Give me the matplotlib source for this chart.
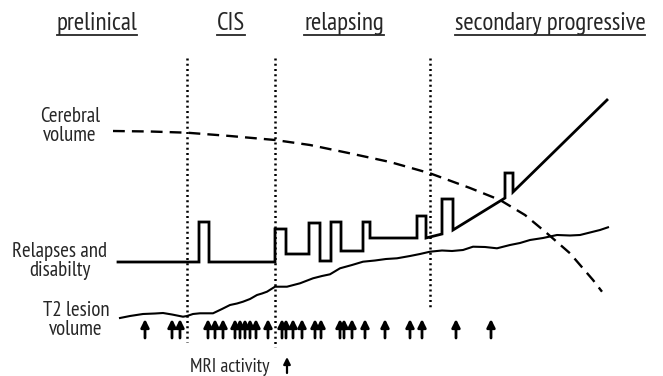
## MS disease course schematic

import numpy as np
import matplotlib.pyplot as plt

#Phase headers and their centre positions
phases = ['prelinical', 'CIS', 'relapsing', 'secondary progressive']
phase_x = [97, 231, 344, 550]

#Phase boundaries (dotted lines) and their lower ends
bound_x = [187, 275, 430]
bound_bottom = [342, 347, 307]

#Relapses and disability (step line)
relapse_x = [118, 199, 199, 209, 209, 275, 275, 286, 286, 309, 309, 320, 320, 331, 331, 341, 341, 363,
             363, 370, 370, 417, 417, 426, 426, 442, 442, 453, 453, 505, 505, 513, 513, 607]
relapse_y = [262, 262, 222, 222, 262, 262, 229, 229, 254, 254, 223, 223, 261, 261, 222, 222, 251, 251,
             222, 222, 238, 238, 216, 216, 238, 234, 199, 199, 230, 198, 173, 173, 192, 100]

#Cerebral volume (dashed)
cereb_x = [113, 150, 187, 230, 275, 310, 347, 390, 430, 470, 500, 525, 547, 570, 593, 602]
cereb_y = [131, 131.5, 132.7, 136, 140, 145, 152.7, 162, 173.3, 188, 200, 215, 233.3, 253.3, 280, 291.7]

#T2 lesion volume
t2_x = [120, 130, 143, 155, 163, 172, 183, 187, 193, 200, 213, 222, 230, 237, 243, 250, 257, 262, 267,
        275, 287, 300, 313, 322, 330, 340, 352, 363, 375, 386, 397, 410, 420, 430, 442, 452, 463, 473,
        485, 497, 510, 520, 530, 543, 557, 570, 580, 592, 600, 608]
t2_y = [318, 316, 314, 313.5, 313, 314.5, 316.7, 316, 314, 313.3, 313.3, 309, 305, 303.5, 301.7, 299,
        295, 293.5, 291.7, 286.7, 286.7, 283.3, 278.3, 276, 274.3, 268.3, 265, 261.7, 260.5, 259, 258.3,
        256, 254, 251.7, 250.5, 251, 250, 246.7, 247, 248.3, 245, 243, 240, 238, 235, 235.5, 235, 232,
        230, 227.3]

#MRI activity arrows
mri_x = [145, 172, 180, 208, 215, 223, 235, 240, 245, 250, 256, 268, 282, 286, 293, 302, 315, 321,
         340, 344, 352, 365, 385, 410, 422, 456, 491]

#Row labels: text, x centre, y centre
labels = ['Cerebral\nvolume', 'Relapses and\ndisabilty', 'T2 lesion\nvolume']
label_x = [70, 60, 76]
label_y = [126, 261, 320]

plt.rcParams['font.family'] = ['PT Sans Narrow', 'DejaVu Sans']
tc = '#262626'

fig = plt.figure(figsize=(6.63, 3.76), dpi=100)
ax = fig.add_axes([0, 0, 1, 1])
ax.set_xlim(0, 663)
ax.set_ylim(376, 0)
ax.axis('off')

#Phase boundaries
for x, yb in zip(bound_x, bound_bottom):
    ax.plot([x, x], [58, yb], color='k', lw=1.8, linestyle=(0, (0.8, 1.3)))

#Curves
ax.plot(cereb_x, cereb_y, color='k', lw=1.7, linestyle=(0, (5, 3)))
ax.plot(t2_x, t2_y, color='k', lw=1.5)
ax.plot(relapse_x, relapse_y, color='k', lw=2.0, solid_joinstyle='miter')

#Arrows
for x in mri_x:
    ax.annotate('', xy=(x, 319), xytext=(x, 338),
                arrowprops=dict(arrowstyle='-|>', lw=2.0, color='k', mutation_scale=12, shrinkA=0, shrinkB=0))

#Headers with underline
hdrs = []
for name, x in zip(phases, phase_x):
    hdrs.append(ax.text(x, 30, name, ha='center', va='baseline', fontsize=18, color=tc))
fig.canvas.draw()
inv = ax.transData.inverted()
for t in hdrs:
    bb = t.get_window_extent()
    x0 = inv.transform((bb.x0, bb.y0))[0]
    x1 = inv.transform((bb.x1, bb.y0))[0]
    ax.plot([x0, x1], [35, 35], color=tc, lw=1.3)

#Row labels
for lab, x, y in zip(labels, label_x, label_y):
    ax.text(x, y, lab, ha='center', va='center', fontsize=15, color=tc, linespacing=1.05)

ax.text(230, 367, 'MRI activity', ha='center', va='center', fontsize=14, color=tc)
ax.annotate('', xy=(287, 357), xytext=(287, 373),
            arrowprops=dict(arrowstyle='-|>', lw=1.6, color='k', mutation_scale=10, shrinkA=0, shrinkB=0))

fig.savefig('out.png', dpi=100)
